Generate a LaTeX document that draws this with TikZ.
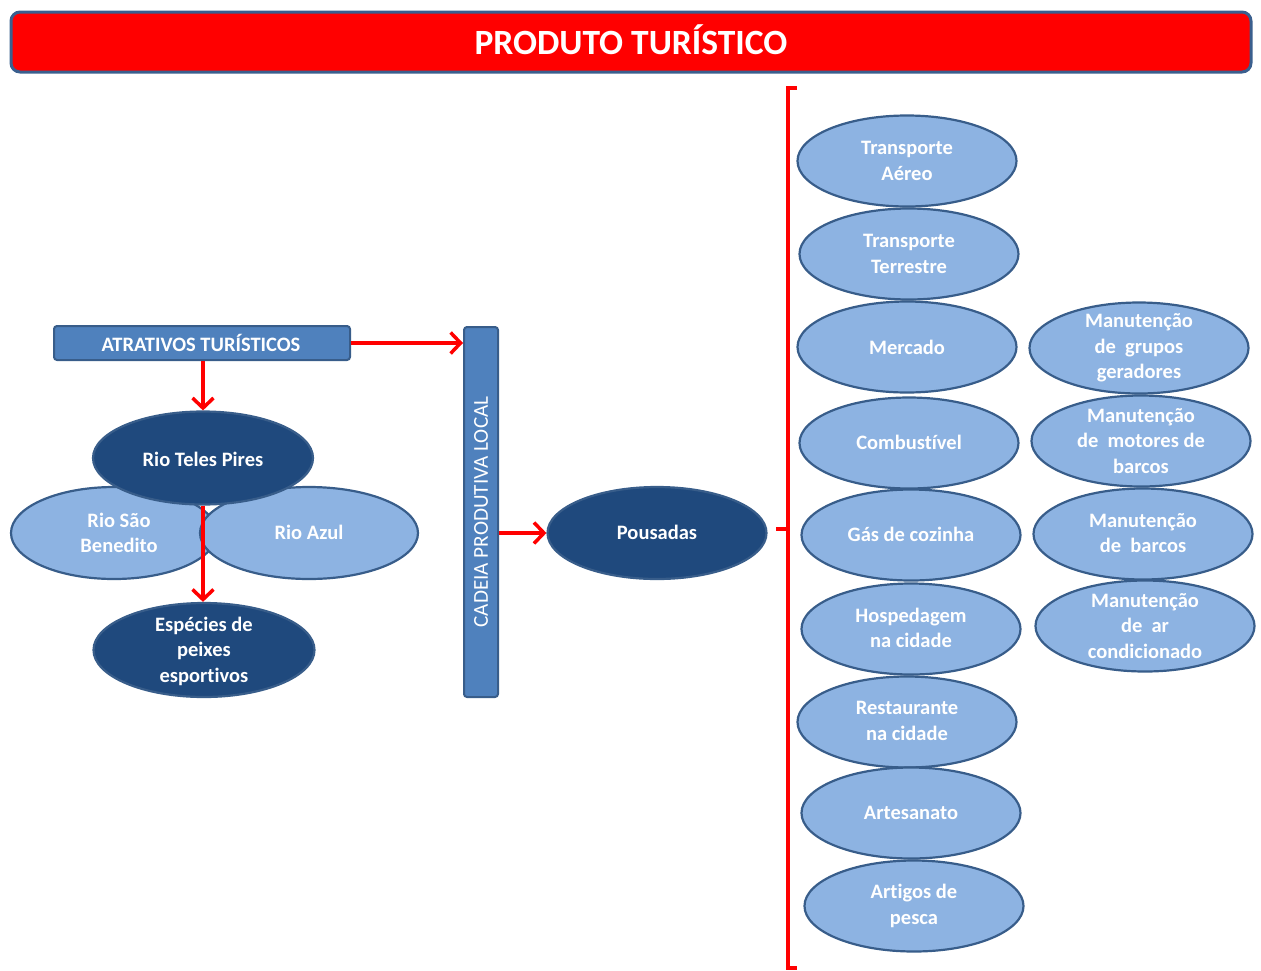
\documentclass[tikz,border=0pt]{standalone}
\usepackage{fontspec}
\setmainfont{Carlito}[Ligatures=NoCommon]
\usetikzlibrary{shapes.geometric,arrows.meta}
\definecolor{lightb}{HTML}{8DB3E2}
\definecolor{darkb}{HTML}{1F497D}
\definecolor{edgeb}{HTML}{385D8A}
\definecolor{midb}{HTML}{4F81BD}
\definecolor{titleedge}{HTML}{3A5F8E}
\begin{document}
\begin{tikzpicture}[x=1pt,y=-1pt,
  ell/.style={ellipse, draw=edgeb, line width=2.2pt, fill=lightb, minimum width=219pt, minimum height=91pt, inner sep=0pt},
  dell/.style={ell, fill=darkb},
  txt/.style={text=white, font=\bfseries\fontsize{20.5}{25.5}\selectfont, align=center, inner sep=0pt},
  boxb/.style={draw=edgeb, line width=2pt, fill=midb, rounded corners=3pt, inner sep=0pt},
  arr/.style={draw=red, line width=3.5pt, -{Straight Barb[length=10pt,width=21pt]}},
  brk/.style={draw=red, line width=3.5pt}]
\useasboundingbox (0,0) rectangle (1261,970);
% title
\node[draw=titleedge, line width=3pt, fill=red, rounded corners=9pt, minimum width=1240pt, minimum height=60pt, inner sep=0pt] (title) at (631,42) {};
\node[text=white, font=\bfseries\fontsize{35.5}{40}\selectfont, inner sep=0pt] (titletxt) at (631,40) {PRODUTO TURÍSTICO};
% left boxes
\node[boxb, minimum width=296pt, minimum height=34pt] (atr) at (202,343) {};
\node[txt] (atrtxt) at (201,343) {ATRATIVOS TURÍSTICOS};
\node[boxb, minimum width=34pt, minimum height=370pt] (cad) at (481,512) {};
\node[text=white, font=\fontsize{21.2}{25}\selectfont, inner sep=0pt, rotate=90] (cadtxt) at (481,512) {CADEIA PRODUTIVA LOCAL};
% rivers
\node[ell, minimum width=206pt, minimum height=92pt] (sbe) at (114,533) {};
\node[txt] (sbetxt) at (119,533) {Rio São\\Benedito};
\node[ell, minimum width=218pt, minimum height=92pt] (azul) at (309,533) {};
\node[txt] (azultxt) at (309,532) {Rio Azul};
\node[dell, minimum width=220pt, minimum height=93pt] (teles) at (203,458) {};
\node[txt] (telestxt) at (203,459) {Rio Teles Pires};
\node[dell, minimum width=221pt, minimum height=94pt] (esp) at (204,650) {};
\node[txt] (esptxt) at (204,651) {Espécies de\\peixes\\esportivos};
% pousadas
\node[dell, minimum width=219pt, minimum height=92pt] (pous) at (657,533) {};
\node[txt] (poustxt) at (657,532) {Pousadas};
% arrows
\draw[arr] (atr.east) -- (atr.east -| cad.west);
\draw[arr] (teles.north |- atr.south) -- (teles.north);
\draw[arr] (teles.south) -- (teles.south |- esp.north);
\draw[arr] (cad.east |- pous.west) -- (pous.west);
% bracket
\coordinate (btop) at (797,88);
\coordinate (bbot) at (797,968);
\coordinate (bmid) at (776,529);
\draw[brk] (btop) -- (788,88) -- (788,968) -- (bbot);
\draw[brk] (bmid) -- (788,529);
% right column
\node[ell] (e1) at (907,161) {};
\node[txt] (t1) at (907,161) {Transporte\\Aéreo};
\node[ell] (e2) at (909,254) {};
\node[txt] (t2) at (909,254) {Transporte\\Terrestre};
\node[ell] (e3) at (907,347) {};
\node[txt] (t3) at (907,347) {Mercado};
\node[ell] (e4) at (909,443) {};
\node[txt] (t4) at (909,442) {Combustível};
\node[ell] (e5) at (911,535) {};
\node[txt] (t5) at (911,534) {Gás de cozinha};
\node[ell] (e6) at (911,629) {};
\node[txt] (t6) at (911,628) {Hospedagem\\na cidade};
\node[ell] (e7) at (907,722) {};
\node[txt] (t7) at (907,721) {Restaurante\\na cidade};
\node[ell] (e8) at (911,813) {};
\node[txt] (t8) at (911,813) {Artesanato};
\node[ell] (e9) at (914,906) {};
\node[txt] (t9) at (914,906) {Artigos de\\pesca};
% second column
\node[ell] (m1) at (1139,348) {};
\node[txt] (mt1) at (1139,348) {Manutenção\\de~ grupos\\geradores};
\node[ell] (m2) at (1141,441) {};
\node[txt] (mt2) at (1141,441) {Manutenção\\de~ motores de\\barcos};
\node[ell] (m3) at (1143,534) {};
\node[txt] (mt3) at (1143,533) {Manutenção\\de~ barcos};
\node[ell] (m4) at (1145,626) {};
\node[txt] (mt4) at (1145,626) {Manutenção\\de~ ar\\condicionado};
\end{tikzpicture}
\end{document}
